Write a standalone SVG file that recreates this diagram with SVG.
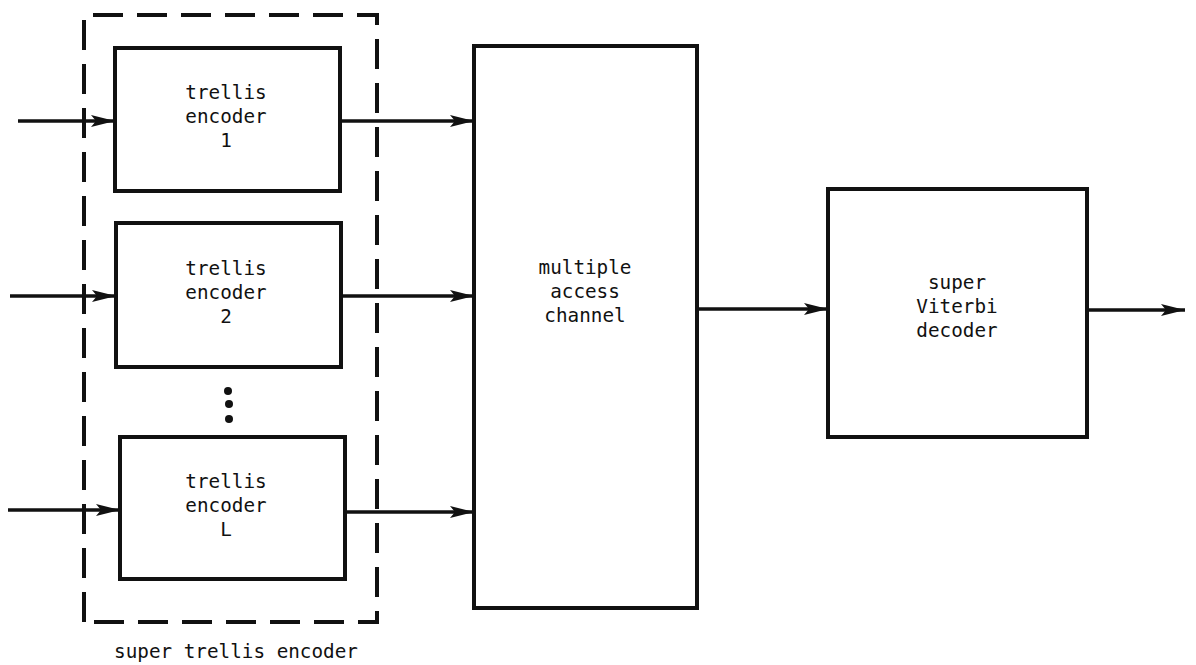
<svg xmlns="http://www.w3.org/2000/svg" width="1196" height="665" viewBox="0 0 1196 665">
<style>
.box{fill:#fff;stroke:#111;stroke-width:4}
.dash{fill:none;stroke:#111;stroke-width:4;stroke-dasharray:30,14}
.ln{fill:none;stroke:#111;stroke-width:3.5;marker-end:url(#ah)}
text{font-family:"DejaVu Sans Mono","Liberation Mono",monospace;font-size:19.3px;fill:#111;text-anchor:middle}
</style>
<defs>
<marker id="ah" markerUnits="userSpaceOnUse" markerWidth="26" markerHeight="14" refX="24" refY="7" orient="auto">
<path d="M0,1 L24,7 L0,13 L5,7 Z" fill="#111"/>
</marker>
</defs>
<g id="connectors">
<line class="ln" x1="18" y1="121" x2="115" y2="121"/>
<line class="ln" x1="340" y1="121" x2="474" y2="121"/>
<line class="ln" x1="10" y1="296" x2="116" y2="296"/>
<line class="ln" x1="341" y1="296" x2="474" y2="296"/>
<line class="ln" x1="8" y1="510" x2="120" y2="510"/>
<line class="ln" x1="345" y1="512" x2="474" y2="512"/>
<line class="ln" x1="697" y1="309" x2="828" y2="309"/>
<line class="ln" x1="1087" y1="310" x2="1185" y2="310"/>
</g>
<g id="super-trellis-encoder">
<path class="dash" d="M84,622 L84,15 L377,15 L377,622 Z"/>
<text x="236" y="658">super trellis encoder</text>
</g>
<g id="enc1">
<rect class="box" x="115" y="48" width="225" height="143"/>
<text x="226" y="99">trellis</text>
<text x="226" y="123">encoder</text>
<text x="226" y="147">1</text>
</g>
<g id="enc2">
<rect class="box" x="116" y="223" width="225" height="144"/>
<text x="226" y="275">trellis</text>
<text x="226" y="299">encoder</text>
<text x="226" y="323">2</text>
</g>
<g id="dots">
<circle cx="228" cy="391" r="4" fill="#111"/>
<circle cx="229" cy="404" r="4" fill="#111"/>
<circle cx="229" cy="419" r="4" fill="#111"/>
</g>
<g id="encL">
<rect class="box" x="120" y="437" width="225" height="142"/>
<text x="226" y="488">trellis</text>
<text x="226" y="512">encoder</text>
<text x="226" y="536">L</text>
</g>
<g id="channel">
<rect class="box" x="474" y="46" width="223" height="562"/>
<text x="585" y="274">multiple</text>
<text x="585" y="298">access</text>
<text x="585" y="322">channel</text>
</g>
<g id="decoder">
<rect class="box" x="828" y="189" width="259" height="248"/>
<text x="957" y="289">super</text>
<text x="957" y="313">Viterbi</text>
<text x="957" y="337">decoder</text>
</g>
</svg>
